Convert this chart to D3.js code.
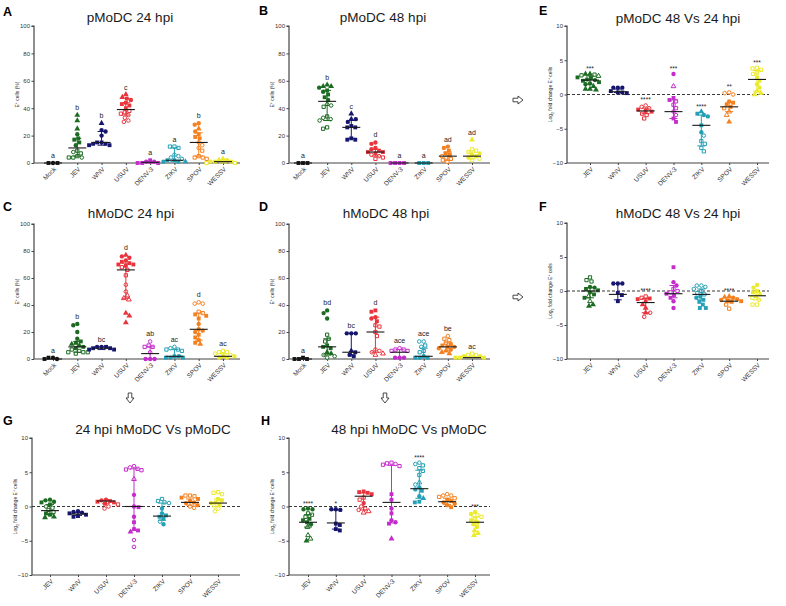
<!DOCTYPE html>
<html><head><meta charset="utf-8">
<script src="https://cdn.jsdelivr.net/npm/d3@7"></script>
<style>body{margin:0;background:#fff} text{font-family:"Liberation Sans",Arial,sans-serif}</style>
</head><body><svg id="c" width="786" height="606"></svg>
<script>
const catsAll = ["Mock","JEV","WNV","USUV","DENV-3","ZIKV","SPOV","WESSV"];
const catsVir = ["JEV","WNV","USUV","DENV-3","ZIKV","SPOV","WESSV"];
const catColors = {"Mock":"#111111","JEV":"#1c6b22","WNV":"#16166e","USUV":"#e8343c","DENV-3":"#c42ccc","ZIKV":"#25a0b6","SPOV":"#f5801f","WESSV":"#ecea2c"};
const pctTicks = [0,20,40,60,80,100];
const logTicks = [-10,-5,0,5,10];

// Panel A: pMoDC 24 hpi
const A_values = [[0,0,0],[35,31,25,21,18,17,15,13,9,8,7,5,4,4,4],[29,24,23,20,15,15,14,14,13,13],[50,48,47,46,44,43,42,40,38,37,36,35,33,31,30],[2,1,1,0,0,0],[12,12,11,6,5,4,3,2,2,1,1,1],[29,28,25,23,21,19,18,15,13,11,9,5,4,4,3],[3,2,2,1,1,1,0,0]];
const A_shapes = ["css","tttcssscqoqqqoq","tcccssssss","ttccssssqqqoooo","sccsss","qqqoooocsstc","cctcsssoooqqqqq","ttcsscqq"];
const A_median = [0,11,15,39,0.5,2,15,1];
const A_low = [0,5,13,35,0,1,5,0];
const A_high = [0,18,23,44,1,11,22,2];
const A_notes = ["a","b","b","c","a","a","b","a"];

// Panel B: pMoDC 48 hpi
const B_values = [[0,0,0],[57,56,56,55,53,52,50,48,46,43,42,41,34,33,32,31,26,25],[36,32,32,30,27,26,26,18,17,17],[15,14,11,10,9,8,8,7,6,5,4,3],[0,0,0,0],[0,0,0],[12,11,9,7,6,5,4,3,2,1],[17,10,9,8,7,6,5,4,3,2]];
const B_shapes = ["sss","tttcscsscvoqqoooqq","ttccssssss","ccccssssooqq","ssss","sss","ccsssooqqq","tqqqssccoo"];
const B_median = [0,45,26,8,0,0,5,5];
const B_low = [0,31,18,5,0,0,2,3];
const B_high = [0,53,31,10,0,0,8,8];
const B_notes = ["a","b","c","d","a","a","ad","ad"];

// Panel C: hMoDC 24 hpi
const C_values = [[0,1,1,0],[26,25,20,15,13,12,11,10,9,8,7,6,5,5,5,4],[9,9,9,8,8,7,7],[77,76,75,73,72,71,70,70,69,68,66,62,55,50,47,45,44,34,32,27],[13,10,9,9,5,0,0,0],[9,8,7,7,6,2,2,1,1,1],[42,41,41,35,34,33,32,30,26,22,21,20,18,16,14,12,11],[6,5,5,4,3,2,2,1,1]];
const C_shapes = ["ccss","ccccssttssqqqqqq","ccsssss","tcccsssssqqqoovvvttt","oqqqoccc","ooqqqcccss","oooqqsssccccsssst","qqqoosscc"];
const C_median = [0,9,8,66,4,2,22,2];
const C_low = [0,5,7,45,0,1,14,1];
const C_high = [0,13,9,71,9,7,34,4];
const C_notes = ["a","b","bc","d","ab","ac","d","ac"];

// Panel D: hMoDC 48 hpi
const D_values = [[0,0,0,1],[36,34,30,18,15,13,10,9,8,5,4,3,2,1],[19,19,19,6,5,3,2],[36,35,31,30,28,25,24,20,17,7,6,5,4,3],[8,7,7,6,6,1,1,1],[13,13,10,9,6,5,2,1,1,1],[17,15,14,12,11,10,9,9,8,7,6,5,4],[4,3,3,2,2,1,1,1]];
const D_shapes = ["ssss","cccqqqsssttooo","ccctsss","ssccsqqqqooovv","oqqqqccc","ooqoqqccss","oqqqssscccttt","qqqccsss"];
const D_median = [0,9,5,20,5,2,9,1];
const D_low = [0,3,3,5,1,1,6,1];
const D_high = [0,15,19,31,7,8,12,2];
const D_notes = ["a","bd","bc","d","ace","ace","be","ac"];

// Panel E: pMoDC 48 vs 24 hpi (log2 fold change)
const E_values = [[3.0,3.0,2.9,2.8,2.7,2.5,2.4,2.2,2.1,2.0,1.8,1.6,1.5,1.2,0.8,0.8,0.7],[1.0,1.0,1.0,0.5,0.3,0.3,0.2],[-1.6,-1.8,-2.0,-2.2,-2.4,-2.5,-2.8,-3.0,-3.5],[3.0,1.2,-0.5,-0.8,-1.0,-1.5,-2.0,-2.5,-3.0,-3.5,-4.0],[-2.5,-2.8,-3.0,-3.2,-4.5,-5.5,-6.0,-6.8,-7.2,-7.8,-8.3],[0.3,0.2,0.0,-1.0,-1.2,-1.5,-1.8,-2.0,-2.5,-3.0,-4.0],[3.9,3.8,3.6,3.2,3.0,2.5,2.0,1.5,1.0,0.5,0.2,0.0]];
const E_shapes = ["ttqqvssccsscctttt","cccssss","ooosssqqq","cvssqqqooss","tsccscoqqqq","ooocsssqvvt","qqqqqssccttt"];
const E_median = [2.1,0.4,-2.4,-2.5,-4.5,-1.8,2.2];
const E_low = [1.5,0.3,-2.8,-3.5,-7.5,-2.5,0.5];
const E_high = [2.7,0.8,-2.0,-0.8,-3.0,-1.2,3.5];
const E_notes = ["***","","****","***","****","**","***"];

// Panel F: hMoDC 48 vs 24 hpi
const F_values = [[2.0,1.6,1.4,0.6,0.5,0.3,0.1,-0.2,-0.5,-0.8,-1.0,-1.5,-2.0,-2.2],[1.1,1.1,1.1,-0.3,-0.6,-1.5],[-0.8,-1.0,-1.1,-1.2,-1.5,-2.0,-2.5,-3.2,-3.2,-3.8],[3.5,1.3,0.8,0.3,0,-0.2,-0.4,-0.6,-1.0,-1.5,-2.5],[0.8,0.8,0.6,0.3,0,-0.3,-0.5,-0.8,-1.0,-1.3,-1.6,-2.0,-2.5,-2.5],[-0.8,-0.9,-1.0,-1.2,-1.3,-1.4,-1.5,-1.6,-2.0,-2.6],[0.9,0.5,0,-0.2,-0.5,-0.8,-1.0,-1.3,-2.0,-2.0]];
const F_shapes = ["qqqccsscsvsvtt","cccsss","qqssstttoo","sccqqqsssccc","ooooqqqccsssss","ttcccsssqq","ccssttooqq"];
const F_median = [0,-0.5,-1.7,-0.4,-0.5,-1.5,-0.7];
const F_low = [-1.0,-1.3,-3.2,-1.0,-1.3,-1.7,-1.3];
const F_high = [0.5,1.1,-1.1,0.8,0.3,-1.2,-0.2];
const F_notes = ["","","****","","","****",""];

// Panel G: 24 hpi hMoDC vs pMoDC
const G_values = [[1.0,0.9,0.7,0.6,0.3,0,-0.2,-0.5,-0.8,-1.0,-1.2,-1.5,-1.6],[-0.7,-0.8,-0.9,-1.0,-1.2,-1.4,-1.5],[1.0,0.9,0.8,0.7,0.6,0.4,0.3,0.0,-0.3],[5.9,5.7,5.5,5.4,5.3,4.0,1.7,0,-0.1,-1.5,-2.3,-3.3,-3.5,-3.7,-4.9,-5.9],[1.1,0.8,0.6,0.5,-0.3,-1.0,-1.3,-1.5,-1.8,-2.2,-2.6],[1.6,1.6,1.5,1.3,1.1,0.8,0.6,0.5,0.2,0,-0.2],[2.1,2.0,1.8,1.1,0.9,0.6,0.5,0.3,0,-0.3,-0.7]];
const G_shapes = ["cccssooqqsstt","cccssss","ccssssqoo","ooqqqvccscssstoo","qqqoccsssoc","qqqssccccoo","qqqsscccooo"];
const G_median = [-0.6,-1.1,0.8,0,-1.4,0.6,0.5];
const G_low = [-1.2,-1.3,0.4,-3.5,-2.0,0.2,0];
const G_high = [0.3,-0.9,0.9,5.5,0.5,1.1,1.1];
const G_notes = ["","","","","","",""];

// Panel H: 48 hpi hMoDC vs pMoDC
const H_values = [[-0.3,-0.4,-0.4,-1.0,-1.2,-1.5,-1.8,-2.0,-2.3,-2.6,-3.0,-4.2,-4.7,-5.0],[-0.4,-0.4,-0.5,-2.5,-2.7,-3.3,-3.5],[2.2,2.1,2.0,1.8,1.3,1.0,0.5,0,-0.3,-0.5,-0.7,-0.9],[6.4,6.3,6.2,6.1,5.9,1.8,1.0,-0.3,-1.0,-2.0,-2.3,-2.5,-4.7],[6.4,6.2,6.0,5.6,5.2,4.6,3.5,3.2,2.8,2.5,2.3,1.5,1.2,0.7,0.6],[1.8,1.6,1.6,1.4,1.2,1.0,0.8,0.6,0.4,0.2,-0.1],[-0.8,-1.1,-1.3,-1.5,-1.8,-2.0,-2.3,-2.6,-3.0,-3.5,-3.9,-4.2]];
const H_shapes = ["cccqqqssscvvvt","cccssss","ssssqqcooovv","qqoqqsccsccst","ooqqqqvoccsctss","oooqqsscccs","ccqqqssccttt"];
const H_median = [-2.3,-2.4,1.5,0.6,2.6,0.7,-2.3];
const H_low = [-3.0,-3.3,-0.5,-2.4,1.2,0.3,-2.7];
const H_high = [-1.2,-0.5,2.0,6.0,5.3,1.2,-1.5];
const H_notes = ["****","*","","","****","","***"];

const panels = [
 {lab:"A",title:"pMoDC 24 hpi",cats:catsAll,vals:A_values,shp:A_shapes,med:A_median,lo:A_low,hi:A_high,notes:A_notes,pct:true,ax:34,axEnd:240,xr:[53,223],yr:[163,26],lx:3,ly:16,tx:130,ty:22},
 {lab:"B",title:"pMoDC 48 hpi",cats:catsAll,vals:B_values,shp:B_shapes,med:B_median,lo:B_low,hi:B_high,notes:B_notes,pct:true,ax:289,axEnd:490,xr:[303,472],yr:[163,26],lx:259,ly:15,tx:383,ty:22},
 {lab:"C",title:"hMoDC 24 hpi",cats:catsAll,vals:C_values,shp:C_shapes,med:C_median,lo:C_low,hi:C_high,notes:C_notes,pct:true,ax:34,axEnd:240,xr:[53,223],yr:[359,224],lx:3,ly:211,tx:131,ty:218},
 {lab:"D",title:"hMoDC 48 hpi",cats:catsAll,vals:D_values,shp:D_shapes,med:D_median,lo:D_low,hi:D_high,notes:D_notes,pct:true,ax:289,axEnd:490,xr:[303,472],yr:[359,224],lx:259,ly:211,tx:386,ty:218},
 {lab:"E",title:"pMoDC 48 Vs 24 hpi",cats:catsVir,vals:E_values,shp:E_shapes,med:E_median,lo:E_low,hi:E_high,notes:E_notes,pct:false,ax:567,axEnd:769,xr:[590,757],yr:[163,26],lx:539,ly:15,tx:678,ty:23},
 {lab:"F",title:"hMoDC 48 Vs 24 hpi",cats:catsVir,vals:F_values,shp:F_shapes,med:F_median,lo:F_low,hi:F_high,notes:F_notes,pct:false,ax:567,axEnd:769,xr:[590,757],yr:[359,223],lx:539,ly:211,tx:678,ty:218},
 {lab:"G",title:"24 hpi hMoDC Vs pMoDC",cats:catsVir,vals:G_values,shp:G_shapes,med:G_median,lo:G_low,hi:G_high,notes:G_notes,pct:false,ax:32,axEnd:240,xr:[50,218],yr:[575,438],lx:3,ly:425,tx:153,ty:434},
 {lab:"H",title:"48 hpi hMoDC Vs pMoDC",cats:catsVir,vals:H_values,shp:H_shapes,med:H_median,lo:H_low,hi:H_high,notes:H_notes,pct:false,ax:289,axEnd:490,xr:[308,475],yr:[575,438],lx:261,ly:425,tx:409,ty:434}
];

const svg = d3.select("#c");
const axisCol = "#444";
const D = 4.4;
const shapeType = {c:d3.symbolCircle,o:d3.symbolCircle,s:d3.symbolSquare,q:d3.symbolSquare,t:d3.symbolTriangle,v:d3.symbolTriangle};
const shapeSize = {c:15,o:10,s:15,q:10.5,t:15,v:10};

function swarm(vals, y){
  const idx = vals.map((v,i)=>i).sort((a,b)=>vals[b]-vals[a]);
  const placed = []; const out = new Array(vals.length); let flip = 1;
  idx.forEach(i=>{
    const py = y(vals[i]); let best = 0;
    for(let k=0;k<200;k++){
      const off = k===0?0:((k%2)?flip:-flip)*Math.ceil(k/2)*0.5;
      if(placed.every(p=>(p.x-off)**2+(p.y-py)**2 >= D*D*0.92)){best=off;break;}
    }
    flip = -flip;
    placed.push({x:best,y:py}); out[i]=best;
  });
  return out;
}

panels.forEach(p=>{
  const g = svg.append("g");
  const x = d3.scalePoint().domain(p.cats).range(p.xr);
  const y = d3.scaleLinear().domain(p.pct?[0,100]:[-10,10]).range(p.yr);
  const ticks = p.pct?pctTicks:logTicks;
  // y axis
  const ya = d3.axisLeft(y).tickValues(ticks).tickSize(2.5).tickPadding(1.5).tickFormat(d3.format("d"));
  const yg = g.append("g").attr("transform",`translate(${p.ax},0)`).call(ya);
  yg.select(".domain").attr("stroke",axisCol).attr("stroke-width",1.2).attr("d",`M-2.5,${p.yr[1]}H0V${p.yr[0]}`);
  yg.selectAll(".tick line").attr("stroke",axisCol);
  yg.selectAll(".tick text").attr("font-size",6).attr("fill","#333").attr("font-family","Liberation Sans, Arial, sans-serif");
  // x axis
  const xa = d3.axisBottom(x).tickSize(2).tickPadding(2);
  const xg = g.append("g").attr("transform",`translate(0,${p.yr[0]})`).call(xa);
  xg.select(".domain").attr("stroke",axisCol).attr("stroke-width",1.2).attr("d",`M${p.ax},0H${p.axEnd}`);
  xg.selectAll(".tick line").attr("stroke",axisCol);
  xg.selectAll(".tick text").attr("font-size",6.5).attr("fill","#333").attr("font-family","Liberation Sans, Arial, sans-serif")
    .attr("text-anchor","end").attr("x",0).attr("y",0).attr("dy","0.35em").attr("transform","translate(1.5,5) rotate(-45)");
  // zero dashed line
  if(!p.pct){
    g.append("line").attr("x1",p.ax).attr("x2",p.axEnd).attr("y1",y(0)).attr("y2",y(0))
      .attr("stroke","#222").attr("stroke-width",0.9).attr("stroke-dasharray","3,2");
  }
  // y label
  const ylab = g.append("text").attr("transform",`translate(${p.ax-15},${(p.yr[0]+p.yr[1])/2}) rotate(-90)`)
    .attr("text-anchor","middle").attr("font-size",5).attr("fill","#222");
  if(p.pct){
    ylab.append("tspan").text("E");
    ylab.append("tspan").attr("font-size",3.5).attr("dy",-2).text("+");
    ylab.append("tspan").attr("dy",2).text(" cells (%)");
  } else {
    ylab.append("tspan").text("Log");
    ylab.append("tspan").attr("font-size",3.5).attr("dy",1.5).text("2");
    ylab.append("tspan").attr("dy",-1.5).text(" fold change E");
    ylab.append("tspan").attr("font-size",3.5).attr("dy",-2).text("+");
    ylab.append("tspan").attr("dy",2).text(" cells");
  }
  // titles
  g.append("text").attr("x",p.tx).attr("y",p.ty).attr("text-anchor","middle").attr("font-size",13.5).attr("fill","#1a1a1a").text(p.title);
  g.append("text").attr("x",p.lx).attr("y",p.ly).attr("font-size",12.5).attr("font-weight","bold").attr("fill","#000").text(p.lab);
  // groups
  p.cats.forEach((c,ci)=>{
    const cx = x(c), col = catColors[c];
    const vals = p.vals[ci], shp = p.shp[ci];
    const offs = swarm(vals, y);
    const gg = g.append("g");
    vals.forEach((v,i)=>{
      const ch = shp[i] || "c";
      const open = "oqv".includes(ch);
      gg.append("path").attr("d",d3.symbol().type(shapeType[ch]).size(shapeSize[ch])())
        .attr("transform",`translate(${cx+offs[i]},${y(v)})`)
        .attr("fill",open?"#fff":col).attr("stroke",open?col:"none").attr("stroke-width",1);
    });
    // whiskers
    if(p.hi[ci]!==p.lo[ci]){
      gg.append("line").attr("x1",cx).attr("x2",cx).attr("y1",y(p.lo[ci])).attr("y2",y(p.hi[ci])).attr("stroke",col).attr("stroke-width",1);
      [p.lo[ci],p.hi[ci]].forEach(b=>gg.append("line").attr("x1",cx-4).attr("x2",cx+4).attr("y1",y(b)).attr("y2",y(b)).attr("stroke",col).attr("stroke-width",1));
    }
    gg.append("line").attr("x1",cx-9).attr("x2",cx+9).attr("y1",y(p.med[ci])).attr("y2",y(p.med[ci])).attr("stroke","#1a1a1a").attr("stroke-width",1.1);
    // annotation
    const note = p.notes[ci];
    if(note){
      const top = Math.min(y(d3.max(vals)), y(p.hi[ci]));
      g.append("text").attr("x",cx).attr("y",p.pct?top-5:top-3).attr("text-anchor","middle")
        .attr("font-size",p.pct?7:6.5).attr("fill","#222").text(note);
    }
  });
});

// hollow arrows
function arrowRight(cx,cy){
  svg.append("path").attr("d",`M${cx-5},${cy-1.8}H${cx}V${cy-4}L${cx+5},${cy}L${cx},${cy+4}V${cy+1.8}H${cx-5}Z`)
    .attr("fill","#fff").attr("stroke","#333").attr("stroke-width",0.9);
}
function arrowDown(cx,cy){
  svg.append("path").attr("d",`M${cx-1.8},${cy-5}V${cy}H${cx-4}L${cx},${cy+5}L${cx+4},${cy}H${cx+1.8}V${cy-5}Z`)
    .attr("fill","#fff").attr("stroke","#333").attr("stroke-width",0.9);
}
arrowRight(518,100); arrowRight(518,297);
arrowDown(130,398); arrowDown(385,398);
</script></body></html>
